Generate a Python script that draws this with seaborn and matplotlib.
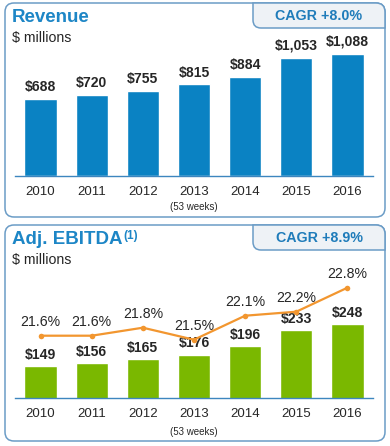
import numpy as np
import matplotlib
matplotlib.use("Agg")
import matplotlib.pyplot as plt
from matplotlib.patches import FancyBboxPatch, PathPatch
from matplotlib.path import Path
import seaborn as sns

# data
years = ['2010', '2011', '2012', '2013', '2014', '2015', '2016']
revenue = [688, 720, 755, 815, 884, 1053, 1088]
ebitda = [149, 156, 165, 176, 196, 233, 248]
margin = [21.6, 21.6, 21.8, 21.5, 22.1, 22.2, 22.8]
note_year = '2013'
note_text = '(53 weeks)'

W, H = 390, 446
BLUE = '#0a82c3'
GREEN = '#7ab800'
ORANGE = '#f2962f'
TITLE = '#1d86c6'
EDGE = '#6b9cc6'
TAB_FILL = '#eef2f6'
TEXT = '#262626'

sns.set_theme(style='white')
plt.rcParams['font.family'] = ['Liberation Sans', 'DejaVu Sans']

fig = plt.figure(figsize=(W / 100, H / 100), dpi=100)

# background layer in pixel coords for boxes and headings
bg = fig.add_axes([0, 0, 1, 1])
bg.set_xlim(0, W)
bg.set_ylim(H, 0)
bg.axis('off')


def panel(y0, y1, title, cagr, sup=None):
    box = FancyBboxPatch((5, y0), 380, y1 - y0,
                         boxstyle='round,pad=0,rounding_size=9',
                         fc='white', ec=EDGE, lw=1.1, zorder=1)
    bg.add_patch(box)
    # CAGR tab: rounded bottom-left, top-right follows box corner
    x0, x1, t0, t1, r = 253, 385, y0, y0 + 25, 8
    verts = [(x0, t0), (x0, t1 - r), (x0, t1), (x0 + r, t1), (x1, t1),
             (x1, t0 + 9), (x1, t0), (x1 - 9, t0), (x0, t0)]
    codes = [Path.MOVETO, Path.LINETO, Path.CURVE3, Path.CURVE3, Path.LINETO,
             Path.LINETO, Path.CURVE3, Path.CURVE3, Path.CLOSEPOLY]
    bg.add_patch(PathPatch(Path(verts, codes), fc=TAB_FILL, ec=EDGE, lw=1.1, zorder=2))
    bg.text((x0 + x1) / 2, (t0 + t1) / 2 + 1, f'CAGR {cagr}', ha='center', va='center',
            fontsize=10.3, fontweight='bold', color='#1f7cba', zorder=3)
    t = bg.text(12, y0 + 14, title, ha='left', va='center', fontsize=13.5,
                fontweight='bold', color=TITLE, zorder=3)
    if sup:
        bg.annotate(sup, xy=(1, 1), xycoords=t, xytext=(0.8, 0.5), textcoords='offset points',
                    ha='left', va='top', fontsize=8.5, fontweight='bold', color=TITLE)
    bg.text(12, y0 + 35, '$ millions', ha='left', va='center', fontsize=10.2, color=TEXT, zorder=3)


panel(3, 217, 'Revenue', '+8.0%')
panel(225, 441, 'Adj. EBITDA', '+8.9%', sup='(1)')


def frac(px_left, px_top, px_right, px_bottom):
    return [px_left / W, (H - px_bottom) / H, (px_right - px_left) / W, (px_bottom - px_top) / H]


def style_axis(ax, note_px):
    sns.despine(ax=ax, left=True, top=True, right=True)
    ax.spines['bottom'].set_color('#3d86bf')
    ax.spines['bottom'].set_linewidth(1.0)
    ax.set_yticks([])
    ax.set_ylabel('')
    ax.set_xlim(-0.5, len(years) - 0.5)
    ax.set_xticks(np.arange(len(years)))
    ax.set_xticklabels(years)
    ax.set_xticks(np.arange(len(years) + 1) - 0.5, minor=True)
    ax.tick_params(axis='x', which='major', length=0, pad=7, labelsize=9.5, labelcolor=TEXT)
    ax.tick_params(axis='x', which='minor', length=3, width=1.0, color='#3d86bf', direction='out')
    ax.patch.set_alpha(0)
    ax.annotate(note_text, (years.index(note_year), 0), xycoords=ax.get_xaxis_transform(),
                xytext=(0, -note_px * 0.72), textcoords='offset points',
                ha='center', va='center', fontsize=7, color=TEXT)


# Revenue
ax1 = fig.add_axes(frac(15, 45, 373, 176))
sns.barplot(x=years, y=revenue, color=BLUE, saturation=1, width=0.63, ax=ax1)
ax1.set_ylim(0, 131 / 0.1125)
style_axis(ax1, 31)
for i, v in enumerate(revenue):
    ax1.annotate(f'${v:,}', (i, v), xytext=(0, 8.5), textcoords='offset points',
                 ha='center', va='center', fontsize=10.1, fontweight='bold', color=TEXT)

# Adj. EBITDA
ax2 = fig.add_axes(frac(15, 270, 373, 398))
sns.barplot(x=years, y=ebitda, color=GREEN, saturation=1, width=0.63, ax=ax2)
ax2.set_ylim(73.5, 73.5 + 128 / 0.424)
style_axis(ax2, 34)
for i, v in enumerate(ebitda):
    ax2.annotate(f'${v:,}', (i, v), xytext=(0, 8.2), textcoords='offset points',
                 ha='center', va='center', fontsize=10.1, fontweight='bold', color=TEXT, zorder=5)

ax3 = ax2.twinx()
sns.lineplot(x=np.arange(len(years)), y=margin, ax=ax3, color=ORANGE, lw=1.6,
             marker='o', markersize=4, markeredgewidth=0, zorder=4)
ax3.set_ylim(21.6 - 62.3 / 40, 21.6 - 62.3 / 40 + 128 / 40)
ax3.set_xlim(-0.5, len(years) - 0.5)
ax3.axis('off')
for i, v in enumerate(margin):
    ax3.annotate(f'{v:.1f}%', (i, v), xytext=(0, 10), textcoords='offset points',
                 ha='center', va='center', fontsize=10.2, color=TEXT)

fig.savefig('out.png', dpi=100)
